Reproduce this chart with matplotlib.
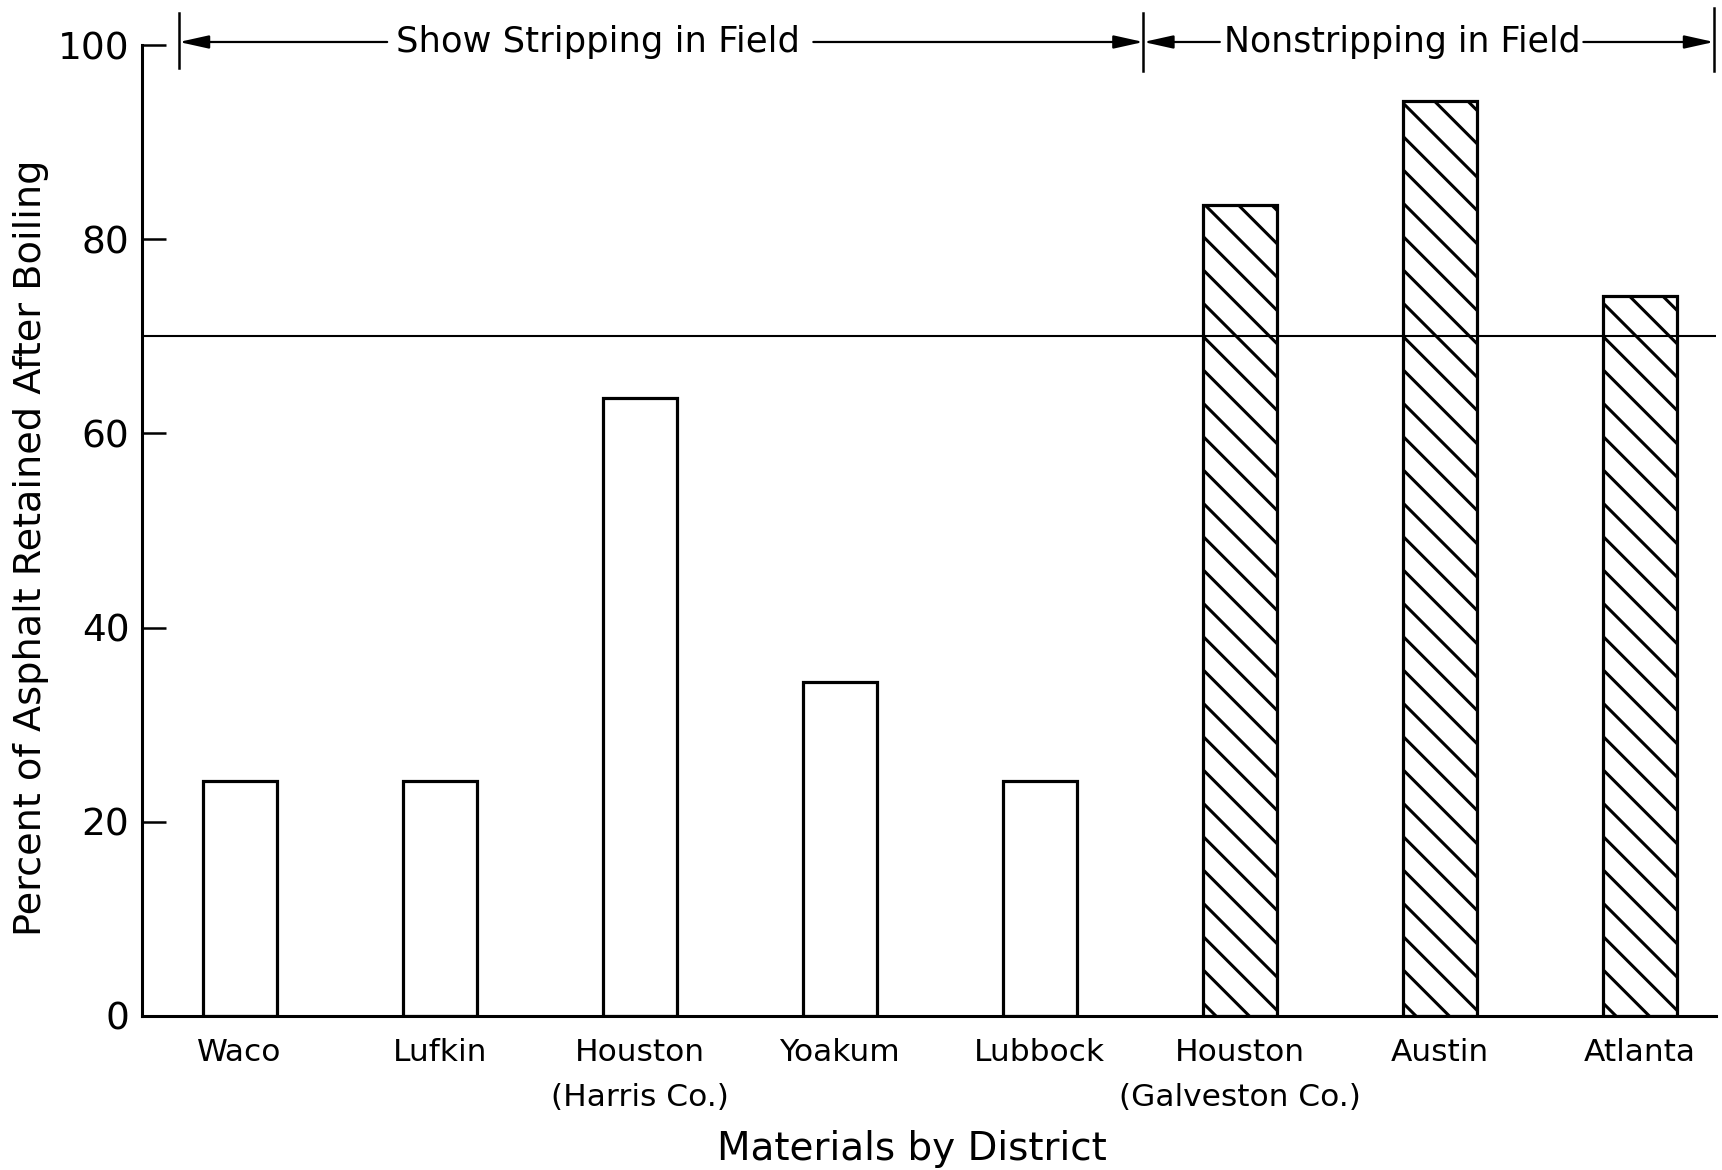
import matplotlib
matplotlib.use("Agg")
import matplotlib.pyplot as plt

# ---- data ----
districts = ["Waco", "Lufkin", "Houston", "Yoakum", "Lubbock", "Houston", "Austin", "Atlanta"]
sub_labels = ["", "", "(Harris Co.)", "", "", "(Galveston Co.)", "", ""]
retained = [24.2, 24.2, 63.6, 34.4, 24.2, 83.5, 94.2, 74.2]
stripping_in_field = [True, True, True, True, True, False, False, False]
criterion = 70
yticks = [0, 20, 40, 60, 80, 100]
group_labels = ["Show Stripping in Field", "Nonstripping in Field"]

plt.rcParams["font.family"] = ["DejaVu Sans"]
plt.rcParams["hatch.linewidth"] = 2.2
plt.rcParams["hatch.color"] = "black"

W, H = 1722, 1170
fig = plt.figure(figsize=(W / 100, H / 100), dpi=100)
fig.patch.set_facecolor("white")

ax_left, ax_right, ax_bottom, ax_top = 142, 1716, 1016, 45
ax = fig.add_axes([ax_left / W, 1 - ax_bottom / H, (ax_right - ax_left) / W, (ax_bottom - ax_top) / H])

x = list(range(len(districts)))
for xi, val, strip in zip(x, retained, stripping_in_field):
    ax.bar(xi, val, width=0.37, facecolor="white", edgecolor="black",
           linewidth=2.3, hatch=None if strip else "\\", zorder=2)

ax.axhline(criterion, color="black", linewidth=1.5, zorder=3)

ax.set_xlim(-0.4875, 7.38)
ax.set_ylim(0, 100)

for s in ["top", "right"]:
    ax.spines[s].set_visible(False)
ax.spines["left"].set_linewidth(2.2)
ax.spines["bottom"].set_linewidth(2.2)

ax.set_yticks(yticks)
ax.set_yticklabels([str(v) for v in yticks])
ax.tick_params(axis="y", direction="in", length=17, width=1.8, pad=9, labelsize=27)
ax.set_xticks([])

trans = ax.get_xaxis_transform()
for xi, name, sub in zip(x, districts, sub_labels):
    ax.text(xi, -0.0463, name, transform=trans, ha="center", va="baseline", fontsize=22.5)
    if sub:
        ax.text(xi, -0.0927, sub, transform=trans, ha="center", va="baseline", fontsize=22.5)

fig.text(912 / W, 1 - 1160 / H, "Materials by District", ha="center", va="baseline", fontsize=28)
fig.text(31 / W, 1 - 548 / H, "Percent of Asphalt Retained After Boiling",
         ha="center", va="center", rotation=90, fontsize=27.5)

# ---- group brackets on top ----
ya = 1.0031
for bx, y0, y1 in [(-0.3025, 0.976, 1.033), (4.518, 0.973, 1.033), (7.37, 0.973, 1.038)]:
    ax.plot([bx, bx], [y0, y1], transform=trans, color="black", lw=1.8, clip_on=False)

arrow_kw = dict(arrowstyle="-|>,head_length=0.9,head_width=0.2", color="black",
                lw=1.6, shrinkA=0, shrinkB=0, mutation_scale=20)
for start, tip in [(0.738, -0.3025), (2.868, 4.518), (4.90, 4.518), (6.717, 7.37)]:
    ax.annotate("", xy=(tip, ya), xytext=(start, ya), xycoords=trans, textcoords=trans,
                arrowprops=arrow_kw, annotation_clip=False)

ax.text(1.79, ya, group_labels[0], transform=trans, ha="center", va="center", fontsize=25.5)
ax.text(5.81, ya, group_labels[1], transform=trans, ha="center", va="center", fontsize=25)

fig.savefig("out.png", dpi=100, facecolor="white")
